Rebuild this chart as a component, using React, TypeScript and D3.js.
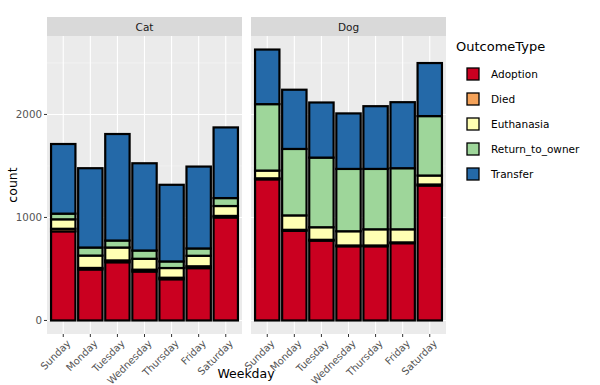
import React from 'react'
import * as d3 from 'd3'

// outcome counts per weekday
const weekdays = ['Sunday', 'Monday', 'Tuesday', 'Wednesday', 'Thursday', 'Friday', 'Saturday']
const outcomeTypes = ['Adoption', 'Died', 'Euthanasia', 'Return_to_owner', 'Transfer']
const outcomeColors = ['#CA0020', '#F4A259', '#FFFFB3', '#9ED69A', '#2469A8']
const animals = ['Cat', 'Dog']

const catAdoption = [865, 495, 565, 475, 400, 508, 1000]
const catDied = [25, 15, 18, 18, 15, 18, 15]
const catEuthanasia = [92, 120, 125, 106, 94, 102, 96]
const catReturn = [55, 78, 68, 80, 64, 71, 77]
const catTransfer = [676, 770, 1034, 847, 744, 795, 686]

const dogAdoption = [1370, 870, 775, 720, 720, 750, 1310]
const dogDied = [10, 10, 8, 8, 8, 8, 10]
const dogEuthanasia = [75, 140, 122, 138, 157, 127, 87]
const dogReturn = [645, 645, 676, 605, 586, 593, 577]
const dogTransfer = [530, 575, 535, 539, 609, 641, 515]

const yTicks = [0, 1000, 2000]
const yMinor = [500, 1500, 2500]

const seriesByAnimal = {
  Cat: [catAdoption, catDied, catEuthanasia, catReturn, catTransfer],
  Dog: [dogAdoption, dogDied, dogEuthanasia, dogReturn, dogTransfer]
}

const font = 'DejaVu Sans, Verdana, sans-serif'

export default function App () {
  const width = 600
  const height = 385
  const panelTop = 36
  const panelBottom = 334
  const stripTop = 17
  const panelW = 195
  const panelLefts = [47, 251]

  const rows = animals.map(a => weekdays.map((day, i) => {
    const row = { day }
    outcomeTypes.forEach((k, j) => { row[k] = seriesByAnimal[a][j][i] })
    return row
  }))
  const stack = d3.stack().keys(outcomeTypes)
  const stacked = rows.map(r => stack(r))
  const maxTotal = d3.max(stacked.flat(2).map(d => d[1]))

  const y = d3.scaleLinear()
    .domain([-0.05 * maxTotal, 1.05 * maxTotal])
    .range([panelBottom, panelTop])

  const color = d3.scaleOrdinal().domain(outcomeTypes).range(outcomeColors)

  return (
    <svg width={width} height={height} style={{ display: 'block', position: 'absolute', left: 0, top: 0 }}>
      <rect width={width} height={height} fill='#fff' />
      {animals.map((animal, ai) => {
        const left = panelLefts[ai]
        const x = d3.scalePoint().domain(weekdays).range([left, left + panelW]).padding(0.6)
        const bw = x.step() * 0.9
        return (
          <g key={animal}>
            <rect x={left} y={panelTop} width={panelW} height={panelBottom - panelTop} fill='#EBEBEB' />
            {yMinor.map(t => (
              <line key={t} x1={left} x2={left + panelW} y1={y(t)} y2={y(t)} stroke='#F5F5F5' strokeWidth={0.6} />
            ))}
            {yTicks.map(t => (
              <line key={t} x1={left} x2={left + panelW} y1={y(t)} y2={y(t)} stroke='#fff' strokeWidth={1.1} />
            ))}
            {weekdays.map(d => (
              <line key={d} x1={x(d)} x2={x(d)} y1={panelTop} y2={panelBottom} stroke='#fff' strokeWidth={1.1} />
            ))}
            <rect x={left} y={stripTop} width={panelW} height={panelTop - stripTop} fill='#D9D9D9' />
            <text x={left + panelW / 2} y={(stripTop + panelTop) / 2 + 4} textAnchor='middle'
              fontFamily={font} fontSize={10.5} fill='#1A1A1A'>{animal}</text>
            {stacked[ai].map(layer => (
              <g key={layer.key}>
                {layer.map(d => (
                  <rect key={d.data.day} x={x(d.data.day) - bw / 2} y={y(d[1])}
                    width={bw} height={y(d[0]) - y(d[1])}
                    fill={color(layer.key)} stroke='#000' strokeWidth={2.2} />
                ))}
              </g>
            ))}
            {weekdays.map(d => (
              <g key={d}>
                <line x1={x(d)} x2={x(d)} y1={panelBottom} y2={panelBottom + 3} stroke='#333' strokeWidth={1} />
                <text transform={`translate(${x(d) + 3},${panelBottom + 5}) rotate(-45)`} textAnchor='end'
                  dy='0.7em' fontFamily={font} fontSize={10} fill='#555'>{d}</text>
              </g>
            ))}
          </g>
        )
      })}
      {yTicks.map(t => (
        <g key={t}>
          <line x1={44} x2={47} y1={y(t)} y2={y(t)} stroke='#333' strokeWidth={1} />
          <text x={42} y={y(t)} dy='0.35em' textAnchor='end' fontFamily={font} fontSize={10.3} fill='#555'>{t}</text>
        </g>
      ))}
      <text transform={`translate(17,${(panelTop + panelBottom) / 2}) rotate(-90)`} textAnchor='middle'
        fontFamily={font} fontSize={12.5} fill='#000'>count</text>
      <text x={246} y={378} textAnchor='middle' fontFamily={font} fontSize={12.5} fill='#000'>Weekday</text>
      <text x={456} y={51} fontFamily={font} fontSize={13} fill='#000'>OutcomeType</text>
      {outcomeTypes.map((k, i) => (
        <g key={k} transform={`translate(467,${74 + i * 25})`}>
          <rect x={0} y={-6} width={12} height={12} fill={color(k)} stroke='#000' strokeWidth={1.3} />
          <text x={24} y={0} dy='0.35em' fontFamily={font} fontSize={10.5} fill='#000'>{k}</text>
        </g>
      ))}
    </svg>
  )
}
